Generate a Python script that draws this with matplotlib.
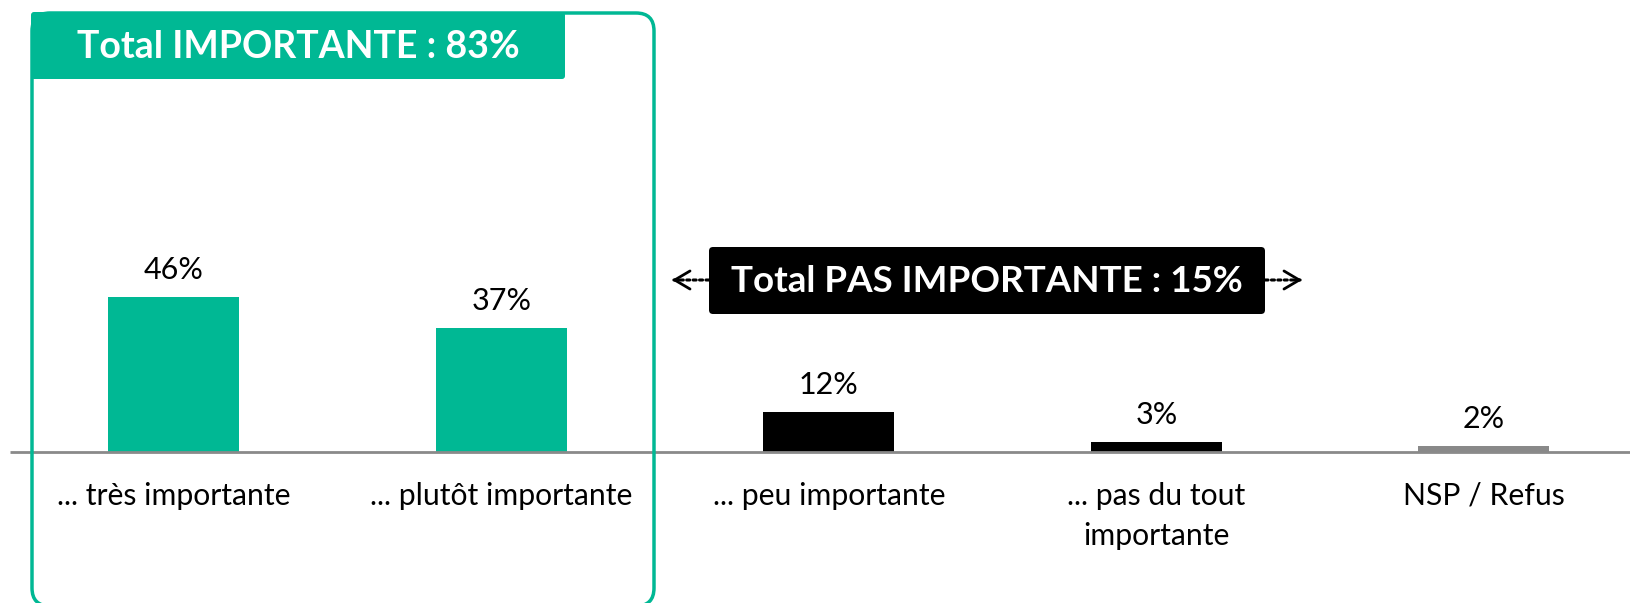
import matplotlib
matplotlib.use("Agg")
import matplotlib.pyplot as plt
from matplotlib.patches import FancyBboxPatch


# Data
categories = ["... très importante", "... plutôt importante", "... peu importante",
              "... pas du tout\nimportante", "NSP / Refus"]
values = [46, 37, 12, 3, 2]
bar_colors = ["#00B894", "#00B894", "#000000", "#000000", "#898989"]
total_important = 83
total_pas_important = 15

TEAL = "#00B894"
FONT = "Lato"

plt.rcParams['font.family'] = [FONT, 'DejaVu Sans']


def px_box(fig, x0, y0, x1, y1):
	# pixel coords measured from top-left -> inches from bottom-left
	h = fig.get_figheight() * fig.dpi
	return x0 / fig.dpi, (h - y1) / fig.dpi, (x1 - x0) / fig.dpi, (y1 - y0) / fig.dpi


def draw_dotted_arrow(ax, x0, x1, yy):
	# dotted shaft + solid open head
	ax.annotate("", xy=(x1, yy), xytext=(x0, yy), xycoords='figure fraction',
	            textcoords='figure fraction',
	            arrowprops=dict(arrowstyle='-', color='black', lw=2.2,
	                            linestyle=(0, (1, 1.1)), shrinkA=0, shrinkB=0))
	d = 0.004 if x1 > x0 else -0.004
	ax.annotate("", xy=(x1, yy), xytext=(x1 - d, yy), xycoords='figure fraction',
	            textcoords='figure fraction',
	            arrowprops=dict(arrowstyle='->,head_length=1.1,head_width=0.65',
	                            color='black', lw=2, shrinkA=0, shrinkB=0))


def main():
	fig = plt.figure(figsize=(16.31, 6.03), dpi=100)
	ax = fig.add_axes([0, 0, 1, 1])
	ax.set_xlim(-0.531, 4.449)
	ax.set_ylim(-44.7, 134.3)
	ax.axis('off')

	x = list(range(len(values)))
	ax.bar(x, values, width=0.4, color=bar_colors, zorder=2)
	ax.plot([-0.5, 4.449], [0, 0], color="#8A8A8A", lw=2, zorder=3, solid_capstyle='butt')

	for i, v in zip(x, values):
		ax.annotate(f"{v}%", (i, v), xytext=(0, 13), textcoords='offset points',
		            ha='center', va='baseline', fontsize=22)

	for i, lab in zip(x, categories):
		ax.annotate(lab, (i, 0), xytext=(0, -21), textcoords='offset points',
		            ha='center', va='top', fontsize=21.7, linespacing=1.56)

	# green outline around the "important" group
	bx, by, bw, bh = px_box(fig, 32, 13, 654, 606)
	ax.add_patch(FancyBboxPatch((bx, by), bw, bh, boxstyle="round,pad=0,rounding_size=0.18",
	                            transform=fig.dpi_scale_trans, fill=False, ec=TEAL, lw=2.5,
	                            clip_on=False, zorder=4))

	# green title band
	bx, by, bw, bh = px_box(fig, 31, 12, 565, 79)
	ax.add_patch(FancyBboxPatch((bx, by), bw, bh, boxstyle="round,pad=0,rounding_size=0.03",
	                            transform=fig.dpi_scale_trans, fc=TEAL, ec='none',
	                            clip_on=False, zorder=5))
	fig.text(298 / 1631, 1 - 47 / 603, f"Total IMPORTANTE : {total_important}%", color='white',
	         fontsize=27, fontweight='bold', ha='center', va='center', zorder=6)

	# black box for the "pas important" total
	bx, by, bw, bh = px_box(fig, 709, 247, 1265, 314)
	ax.add_patch(FancyBboxPatch((bx, by), bw, bh, boxstyle="round,pad=0,rounding_size=0.04",
	                            transform=fig.dpi_scale_trans, fc='black', ec='none',
	                            clip_on=False, zorder=5))
	fig.text(987 / 1631, 1 - 281 / 603, f"Total PAS IMPORTANTE : {total_pas_important}%",
	         color='white', fontsize=26.5, fontweight='bold', ha='center', va='center', zorder=6)

	# dotted arrows either side of the black box
	yy = 1 - 280 / 603
	draw_dotted_arrow(ax, 709 / 1631, 672 / 1631, yy)
	draw_dotted_arrow(ax, 1265 / 1631, 1302 / 1631, yy)

	fig.savefig("out.png", dpi=100)


if __name__ == "__main__":
	main()
